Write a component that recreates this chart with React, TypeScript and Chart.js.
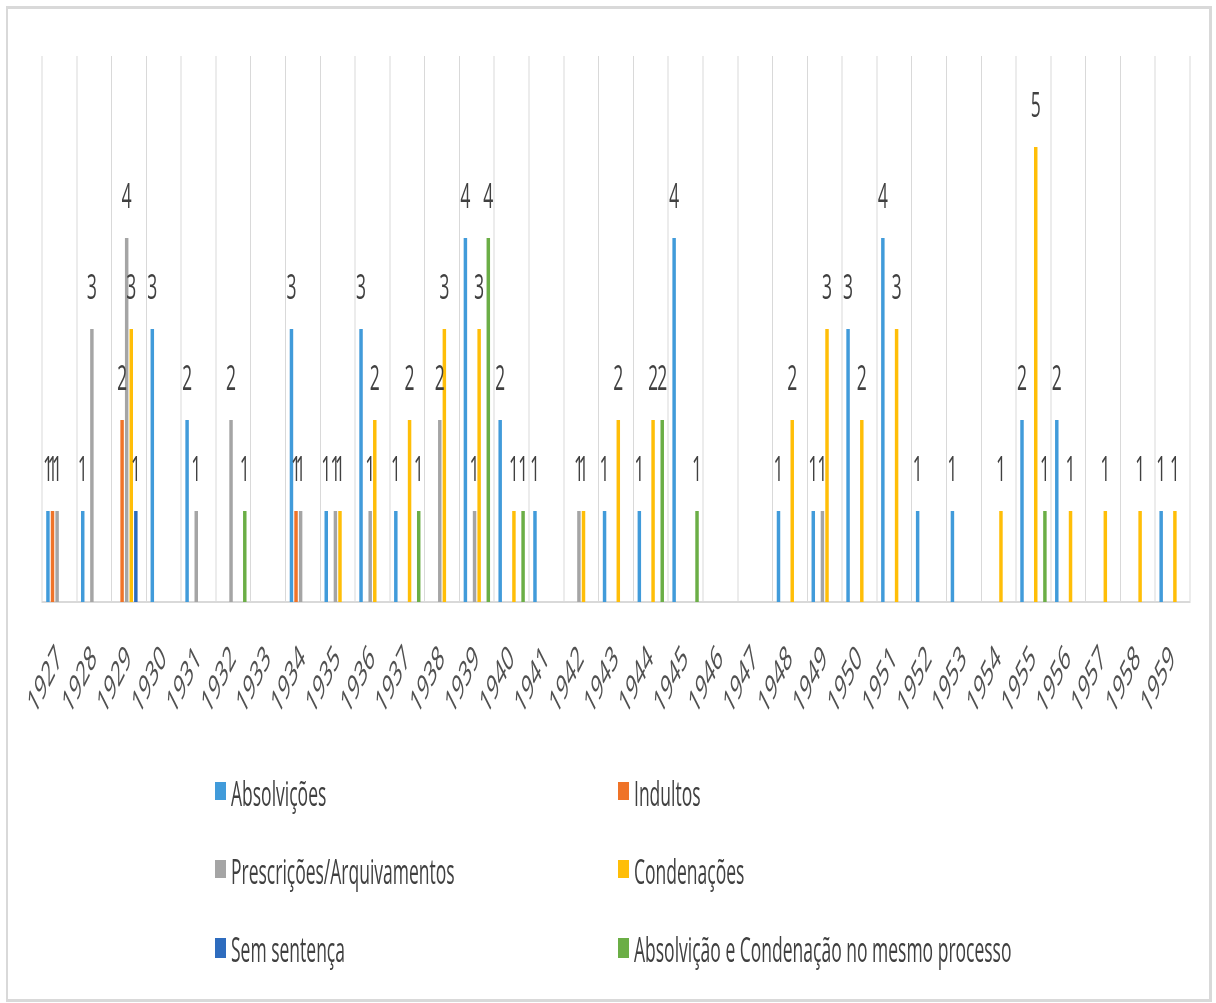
import React, { useEffect, useRef } from 'react';
import { Chart, registerables } from 'chart.js';

Chart.register(...registerables);

const years = [
  '1927', '1928', '1929', '1930', '1931', '1932', '1933', '1934', '1935', '1936', '1937',
  '1938', '1939', '1940', '1941', '1942', '1943', '1944', '1945', '1946', '1947', '1948',
  '1949', '1950', '1951', '1952', '1953', '1954', '1955', '1956', '1957', '1958', '1959',
];

// 1927 .. 1959 (null = no bar)
const absolvicoes = [1, 1, null, 3, 2, null, null, 3, 1, 3, 1, null, 4, 2, 1, null, 1, 1, 4, null, null, 1, 1, 3, 4, 1, 1, null, 2, 2, null, null, 1];
const indultos = [1, null, 2, null, null, null, null, 1, null, null, null, null, null, null, null, null, null, null, null, null, null, null, null, null, null, null, null, null, null, null, null, null, null];
const prescricoes = [1, 3, 4, null, 1, 2, null, 1, 1, 1, null, 2, 1, null, null, 1, null, null, null, null, null, null, 1, null, null, null, null, null, null, null, null, null, null];
const condenacoes = [null, null, 3, null, null, null, null, null, 1, 2, 2, 3, 3, 1, null, 1, 2, 2, null, null, null, 2, 3, 2, 3, null, null, 1, 5, 1, 1, 1, 1];
const semSentenca = [null, null, 1, null, null, null, null, null, null, null, null, null, null, null, null, null, null, null, null, null, null, null, null, null, null, null, null, null, null, null, null, null, null];
const absolvicaoCondenacao = [null, null, null, null, null, 1, null, null, null, null, 1, null, 4, 1, null, null, null, 2, 1, null, null, null, null, null, null, null, null, null, 1, null, null, null, null];

const seriesNames = [
  'Absolvições',
  'Indultos',
  'Prescrições/Arquivamentos',
  'Condenações',
  'Sem sentença',
  'Absolvição e Condenação no mesmo processo',
];
const seriesValues = [absolvicoes, indultos, prescricoes, condenacoes, semSentenca, absolvicaoCondenacao];
const seriesColors = ['#419BDA', '#EF7328', '#A5A5A5', '#FFBE08', '#2E6CBE', '#6BAE46'];

const FONT = "'Open Sans', sans-serif";
const TEXT = '#404040';

const valueLabels = {
  id: 'valueLabels',
  afterDatasetsDraw(chart: any) {
    const ctx = chart.ctx;
    ctx.save();
    ctx.font = `17.5px ${FONT}`;
    ctx.fillStyle = TEXT;
    ctx.textAlign = 'center';
    ctx.textBaseline = 'alphabetic';
    chart.data.datasets.forEach((ds: any, i: number) => {
      const meta = chart.getDatasetMeta(i);
      meta.data.forEach((el: any, j: number) => {
        const v = ds.data[j];
        if (v === null || v === undefined) return;
        ctx.fillText(String(v), el.x, el.y - 15);
      });
    });
    ctx.restore();
  },
};

export default function App() {
  const ref = useRef<HTMLCanvasElement>(null);

  useEffect(() => {
    const chart = new Chart(ref.current as HTMLCanvasElement, {
      type: 'bar',
      data: {
        labels: years,
        datasets: seriesNames.map((name, i) => ({
          label: name,
          data: seriesValues[i],
          backgroundColor: seriesColors[i],
          borderWidth: 0,
          categoryPercentage: 0.79,
          barPercentage: 0.76,
        })),
      },
      options: {
        animation: false,
        responsive: false,
        devicePixelRatio: 2,
        layout: { padding: { left: 42, right: 26, top: 28, bottom: 0 } },
        plugins: {
          legend: { display: false },
          tooltip: { enabled: false },
        },
        scales: {
          x: {
            grid: { color: '#d9d9d9', lineWidth: 1, offset: true, drawTicks: false },
            border: { color: '#d9d9d9', width: 1 },
            ticks: {
              minRotation: 45,
              maxRotation: 45,
              autoSkip: false,
              padding: 18,
              color: '#505050',
              font: { family: FONT, size: 17.5 },
            },
            afterFit: (scale: any) => {
              scale.height = 59;
            },
          },
          y: {
            display: false,
            min: 0,
            max: 6,
          },
        },
      },
      plugins: [valueLabels],
    } as any);
    return () => chart.destroy();
  }, []);

  const colX = [215, 618];
  const rowY = [395.5, 434.5, 474];

  return (
    <div style={{ position: 'absolute', left: 0, top: 0, width: 1216, height: 1003, overflow: 'hidden', background: '#fff' }}>
      <div
        style={{
          position: 'absolute',
          left: 6,
          top: 6,
          width: 1206,
          height: 996,
          boxSizing: 'border-box',
          borderStyle: 'solid',
          borderColor: '#d9d9d9',
          borderWidth: '3px 3px 3px 2px',
        }}
      />
      <div
        style={{
          position: 'absolute',
          left: 0,
          top: 0,
          width: 1216,
          height: 501,
          transform: 'scaleY(2)',
          transformOrigin: '0 0',
        }}
      >
        <canvas ref={ref} width={1216} height={360} style={{ position: 'absolute', left: 0, top: 0, width: 1216, height: 360 }} />
        {seriesNames.map((name, i) => (
          <div
            key={name}
            style={{
              position: 'absolute',
              left: colX[i % 2],
              top: rowY[Math.floor(i / 2)] - 12,
              height: 24,
              display: 'flex',
              alignItems: 'center',
              whiteSpace: 'nowrap',
            }}
          >
            <span style={{ display: 'inline-block', width: 11, height: 9.5, background: seriesColors[i], marginRight: 5 }} />
            <span style={{ fontFamily: FONT, fontSize: 17.5, color: TEXT, lineHeight: '24px' }}>{name}</span>
          </div>
        ))}
      </div>
    </div>
  );
}
